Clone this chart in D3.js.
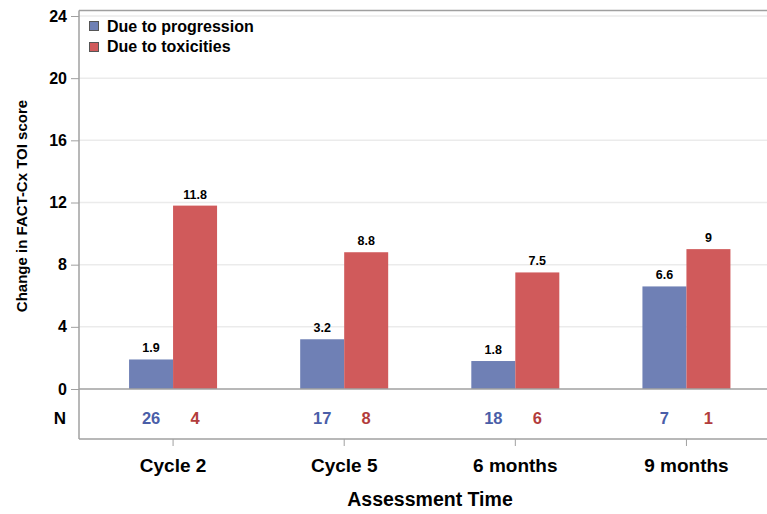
<!DOCTYPE html>
<html><head><meta charset="utf-8">
<script src="https://cdn.jsdelivr.net/npm/d3@7"></script>
<style>body{margin:0;background:#fff}text{font-family:Arial,"Liberation Sans",sans-serif}</style>
</head><body><svg id="c" width="767" height="514"></svg>
<script>
const categories = ["Cycle 2", "Cycle 5", "6 months", "9 months"];
const seriesNames = ["Due to progression", "Due to toxicities"];
const progression = [1.9, 3.2, 1.8, 6.6];
const toxicities = [11.8, 8.8, 7.5, 9];
const nProgression = [26, 17, 18, 7];
const nToxicities = [4, 8, 6, 1];
const yTicks = [0, 4, 8, 12, 16, 20, 24];

const barColors = ["#6f80b5", "#d05a5b"];
const nColors = ["#4a5ea8", "#b23c3c"];

(function () {
const svg = d3.select("#c");
const pL = 79, pR = 767, pT = 10.5, pB = 439;
const y = d3.scaleLinear().domain([0, 24]).range([389, 16]);
const x = d3.scaleBand().domain(categories).range([87.5, 772]).padding(0);
const bw = 44;
const FF = "Arial, 'Liberation Sans', sans-serif";

// gridlines
svg.append("g").selectAll("line").data(yTicks.filter(d => d > 0)).join("line")
  .attr("x1", pL).attr("x2", pR).attr("y1", d => y(d)).attr("y2", d => y(d))
  .attr("stroke", "#ebebeb").attr("stroke-width", 1.5);

// frame
svg.append("line").attr("x1", pL).attr("x2", pR).attr("y1", pT).attr("y2", pT).attr("stroke", "#a0a0a0").attr("stroke-width", 1.5);
svg.append("line").attr("x1", pL).attr("x2", pR).attr("y1", pB).attr("y2", pB).attr("stroke", "#a0a0a0").attr("stroke-width", 1.5);
svg.append("line").attr("x1", pL).attr("x2", pL).attr("y1", pT).attr("y2", pB).attr("stroke", "#a0a0a0").attr("stroke-width", 1.5);

// y axis
const yAxis = d3.axisLeft(y).tickValues(yTicks).tickSize(8).tickPadding(4);
const ya = svg.append("g").attr("transform", `translate(${pL},0)`).call(yAxis);
ya.select(".domain").remove();
ya.selectAll(".tick line").attr("stroke", "#a0a0a0");
ya.selectAll(".tick text").attr("font-size", 16).attr("font-weight", "bold").attr("fill", "#000")
  .style("font-family", FF);

// x axis
const xAxis = d3.axisBottom(x).tickSize(7).tickPadding(13);
const xa = svg.append("g").attr("transform", `translate(0,${pB})`).call(xAxis);
xa.select(".domain").remove();
xa.selectAll(".tick line").attr("stroke", "#a0a0a0");
xa.selectAll(".tick text").attr("font-size", 19).attr("fill", "#000").attr("font-weight", "bold")
  .style("font-family", FF);

// bars
const series = [progression, toxicities];
series.forEach((vals, s) => {
  const g = svg.append("g");
  g.selectAll("rect").data(vals).join("rect")
    .attr("x", (d, i) => x(categories[i]) + x.bandwidth() / 2 + (s === 0 ? -bw : 0))
    .attr("width", bw)
    .attr("y", d => y(d)).attr("height", d => y(0) - y(d))
    .attr("fill", barColors[s]);
  g.selectAll("text").data(vals).join("text")
    .attr("x", (d, i) => x(categories[i]) + x.bandwidth() / 2 + (s === 0 ? -bw / 2 : bw / 2))
    .attr("y", d => y(d) - 7)
    .attr("text-anchor", "middle").attr("font-size", 12.5).attr("font-weight", "bold").attr("fill", "#000")
    .text(d => d);
});

// zero line
svg.append("line").attr("x1", pL).attr("x2", pR).attr("y1", y(0)).attr("y2", y(0)).attr("stroke", "#a0a0a0").attr("stroke-width", 1.5);

// N row
svg.append("text").attr("x", 66).attr("y", 424).attr("text-anchor", "end").attr("font-size", 17).attr("font-weight", "bold").text("N");
[nProgression, nToxicities].forEach((vals, s) => {
  svg.append("g").selectAll("text").data(vals).join("text")
    .attr("x", (d, i) => x(categories[i]) + x.bandwidth() / 2 + (s === 0 ? -bw / 2 : bw / 2))
    .attr("y", 424).attr("text-anchor", "middle").attr("font-size", 16.5).attr("font-weight", "bold")
    .attr("fill", nColors[s]).text(d => d);
});

// axis titles
svg.append("text").attr("transform", "translate(27,206) rotate(-90)").attr("text-anchor", "middle")
  .attr("font-size", 15).attr("font-weight", "bold").text("Change in FACT-Cx TOI score");
svg.append("text").attr("x", 430).attr("y", 506).attr("text-anchor", "middle")
  .attr("font-size", 19.5).attr("font-weight", "bold").text("Assessment Time");

// legend
const lg = svg.append("g");
seriesNames.forEach((n, i) => {
  lg.append("rect").attr("x", 89.5).attr("y", 21.5 + i * 21).attr("width", 9).attr("height", 9)
    .attr("fill", barColors[i]).attr("stroke", "#555").attr("stroke-width", 1);
  lg.append("text").attr("x", 107).attr("y", 31.5 + i * 20.5).attr("font-size", 16).attr("font-weight", "bold").text(n);
});
})();
</script></body></html>
